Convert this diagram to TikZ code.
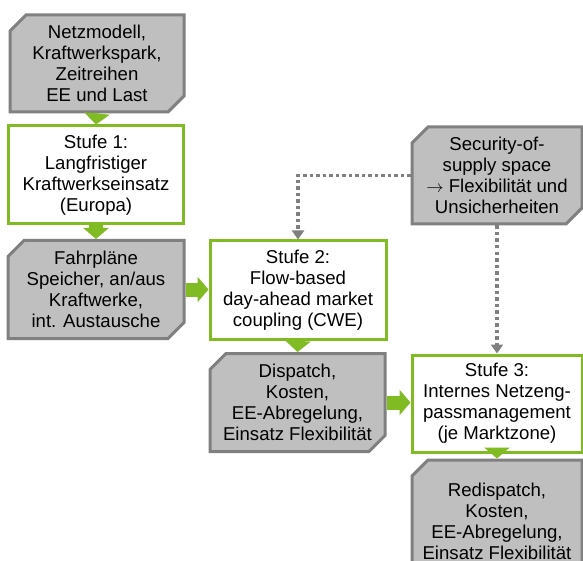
\documentclass[tikz,border=0pt]{standalone}
\usepackage{fontspec}
\setmainfont{Liberation Sans}
\usetikzlibrary{shapes.misc,arrows.meta}
\definecolor{lgreen}{RGB}{128,187,36}
\definecolor{boxgray}{RGB}{191,191,191}
\definecolor{linegray}{RGB}{128,128,128}

\begin{document}
\begin{tikzpicture}[x=1pt, y=-1pt,
	every node/.style = {align=center, inner sep=2pt,
		font=\fontsize{18.6}{21}\selectfont},
	data/.style = {chamfered rectangle,
		chamfered rectangle corners={north west,south east},
		chamfered rectangle xsep=8pt, chamfered rectangle ysep=8pt,
		draw=linegray, line width=3pt, fill=boxgray,
		minimum width=#1, minimum height=98pt},
	stufe/.style = {rectangle, draw=lgreen, line width=3pt, fill=white,
		minimum width=#1, minimum height=98pt},
	flow/.style = {draw=lgreen, line width=14pt,
		-{Triangle[length=11pt,width=25pt]}},
	hint/.style = {draw=linegray, line width=3.5pt, dash pattern=on 3.5pt off 3pt,
		-{Triangle[length=9pt,width=12pt]}}]
	\useasboundingbox (0,0) rectangle (583,561);

	% linke Spalte
	\node[data=174pt, minimum height=97pt] (netz) at (97,63.5)
		{Netzmodell,\\ Kraftwerkspark,\\ Zeitreihen\\ EE und Last};
	\node[stufe=175pt] (stufe1) at (96,175)
		{Stufe 1:\\ Langfristiger\\ Kraftwerkseinsatz\\ (Europa)};
	\node[data=176pt] (fahr) at (96,289.5)
		{Fahrpläne\\ Speicher, an/aus\\ Kraftwerke,\\ int. Austausche};

	% mittlere Spalte
	\node[stufe=176pt] (stufe2) at (298,290)
		{Stufe 2:\\ Flow-based\\ day-ahead market\\ coupling (CWE)};
	\node[data=175pt] (disp) at (297.5,402.5)
		{Dispatch,\\ Kosten,\\ EE-Abregelung,\\ Einsatz Flexibilität};

	% rechte Spalte
	\node[data=170pt, minimum height=97pt] (sos) at (497,175.5)
		{Security-of-\\ supply space\\ $\rightarrow$ Flexibilität und\\ Unsicherheiten};
	\node[stufe=170pt, minimum height=97pt] (stufe3) at (497,403.5)
		{Stufe 3:\\ Internes Netzeng-\\ passmanagement\\ (je Marktzone)};
	\node[data=170pt, minimum height=122pt] (redisp) at (497,521)
		{Redispatch,\\ Kosten,\\ EE-Abregelung,\\ Einsatz Flexibilität};

	% Pfeile
	\draw[flow] (netz.south) -- (stufe1.north);
	\draw[flow] (stufe1.south) -- (fahr.north);
	\draw[flow] (fahr.east) -- (fahr.east -| stufe2.west);
	\draw[flow] (stufe2.south) -- (disp.north);
	\draw[flow] (disp.east) -- (disp.east -| stufe3.west);
	\draw[flow] (stufe3.south) -- (redisp.north);

	\draw[hint] (sos.west) -| (stufe2.north);
	\draw[hint] (sos.south) -- (stufe3.north);
\end{tikzpicture}
\end{document}
